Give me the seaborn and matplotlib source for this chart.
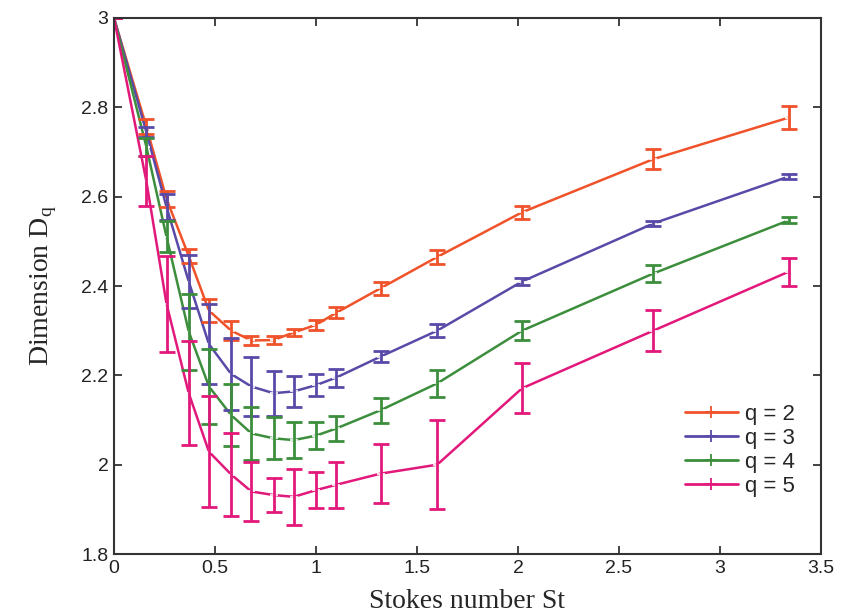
import matplotlib
matplotlib.use("Agg")
import matplotlib.pyplot as plt
from matplotlib.lines import Line2D
import seaborn as sns
import pandas as pd

# Stokes numbers at which the dimensions were measured
stokes = [0.0, 0.16, 0.26, 0.37, 0.47, 0.58, 0.68, 0.79, 0.89, 1.0, 1.1, 1.32, 1.6, 2.02, 2.67, 3.34]

# Generalised dimension D_q and its uncertainty for each q
d_q2 = [3.0, 2.757, 2.595, 2.467, 2.345, 2.300, 2.278, 2.279, 2.296, 2.313, 2.340, 2.395, 2.465, 2.565, 2.684, 2.777]
e_q2 = [0.0, 0.016, 0.018, 0.015, 0.025, 0.022, 0.010, 0.008, 0.008, 0.012, 0.012, 0.015, 0.015, 0.015, 0.022, 0.025]

d_q3 = [3.0, 2.745, 2.577, 2.410, 2.270, 2.203, 2.175, 2.160, 2.164, 2.178, 2.195, 2.242, 2.300, 2.410, 2.540, 2.645]
e_q3 = [0.0, 0.012, 0.030, 0.060, 0.090, 0.080, 0.065, 0.050, 0.035, 0.025, 0.020, 0.012, 0.015, 0.008, 0.006, 0.006]

d_q4 = [3.0, 2.712, 2.510, 2.298, 2.175, 2.111, 2.070, 2.059, 2.055, 2.065, 2.081, 2.122, 2.182, 2.300, 2.428, 2.547]
e_q4 = [0.0, 0.020, 0.035, 0.085, 0.085, 0.070, 0.060, 0.047, 0.040, 0.030, 0.027, 0.028, 0.030, 0.022, 0.018, 0.007]

d_q5 = [3.0, 2.635, 2.360, 2.160, 2.029, 1.978, 1.940, 1.932, 1.928, 1.943, 1.955, 1.980, 2.000, 2.171, 2.300, 2.432]
e_q5 = [0.0, 0.055, 0.107, 0.117, 0.124, 0.094, 0.066, 0.038, 0.062, 0.040, 0.052, 0.066, 0.100, 0.056, 0.046, 0.031]

labels = ["q = 2", "q = 3", "q = 4", "q = 5"]
colors = ["#f0522a", "#5a4aa8", "#3c8e3c", "#e2187b"]

x_ticks = [0, 0.5, 1, 1.5, 2, 2.5, 3, 3.5]
x_tick_labels = ["0", "0.5", "1", "1.5", "2", "2.5", "3", "3.5"]
y_ticks = [1.8, 2.0, 2.2, 2.4, 2.6, 2.8, 3.0]
y_tick_labels = ["1.8", "2", "2.2", "2.4", "2.6", "2.8", "3"]

sns.set_style("ticks")
plt.rcParams["font.family"] = ["Liberation Sans Narrow", "Liberation Sans", "DejaVu Sans"]
serif = ["Liberation Serif", "DejaVu Serif"]

frames = []
for lab, d, e in zip(labels, [d_q2, d_q3, d_q4, d_q5], [e_q2, e_q3, e_q4, e_q5]):
    frames.append(pd.DataFrame({"St": stokes, "D": d, "err": e, "q": lab}))
df = pd.concat(frames, ignore_index=True)

fig = plt.figure(figsize=(8.52, 6.14), dpi=100)
ax = fig.add_axes([0.1338, 0.0977, 0.8298, 0.873])

palette = dict(zip(labels, colors))
sns.lineplot(data=df, x="St", y="D", hue="q", palette=palette, ax=ax,
             marker="+", markersize=6, markeredgewidth=1.2, linewidth=1.8,
             errorbar=None, sort=False, legend=False)

for lab in labels:
    sub = df[df["q"] == lab]
    ax.errorbar(sub["St"], sub["D"], yerr=sub["err"], fmt="none",
                ecolor=palette[lab], elinewidth=2.0, capsize=6, capthick=2.0)

ax.set_xlim(0, 3.5)
ax.set_ylim(1.8, 3.0)
ax.set_xticks(x_ticks)
ax.set_xticklabels(x_tick_labels)
ax.set_yticks(y_ticks)
ax.set_yticklabels(y_tick_labels)
ax.tick_params(direction="in", length=6, width=1.2, top=True, right=True,
               labelsize=14, colors="#222222", pad=4)
for sp in ax.spines.values():
    sp.set_linewidth(1.5)
    sp.set_color("#333333")

ax.set_xlabel("Stokes number St", family=serif, fontsize=20, labelpad=9)
ax.set_ylabel(r"Dimension D$_{\mathregular{q}}$", family=serif, fontsize=20, labelpad=16)

handles = [Line2D([], [], color=c, linewidth=2.0, marker="+", markersize=9,
                  markeredgewidth=1.3) for c in colors]
ax.legend(handles, labels, loc="lower right", frameon=False, fontsize=16,
          handlelength=2.4, handletextpad=0.3, labelspacing=0.14,
          bbox_to_anchor=(0.975, 0.09), borderaxespad=0.0)

fig.savefig("out.png", dpi=100)
